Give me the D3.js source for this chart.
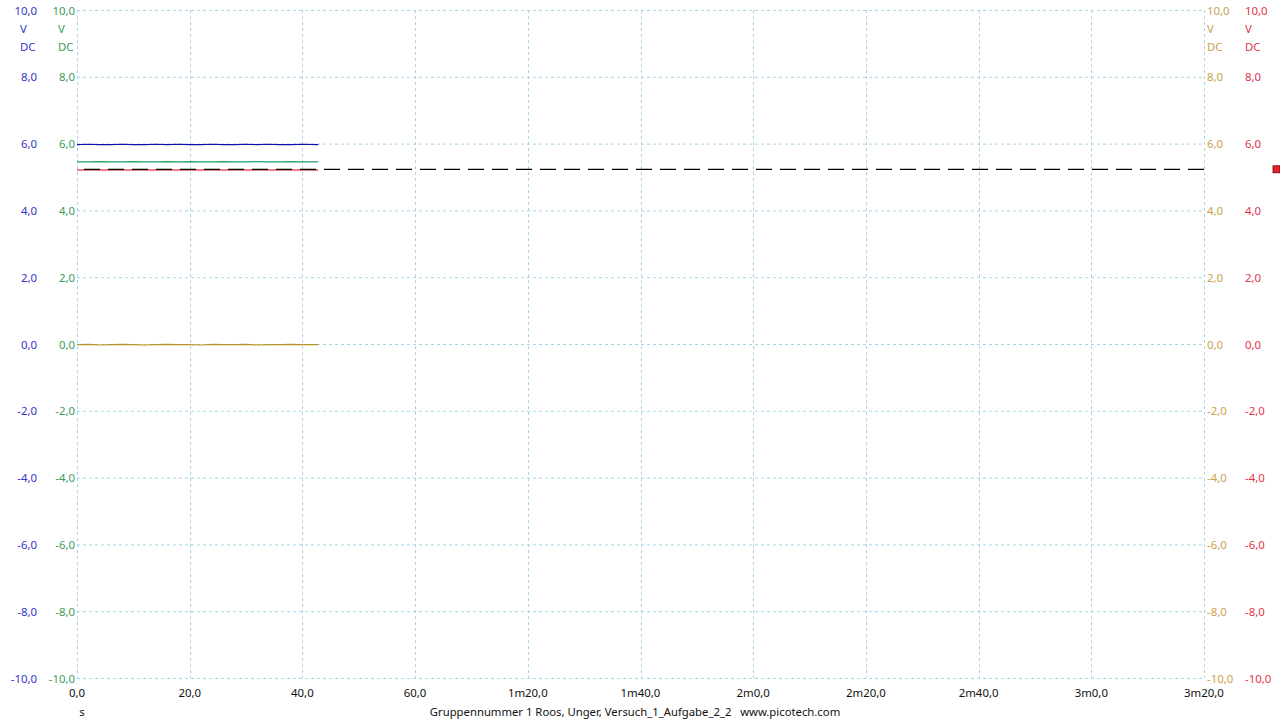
<!DOCTYPE html>
<html><head><meta charset="utf-8">
<script src="https://cdn.jsdelivr.net/npm/d3@7"></script>
<style>
html,body{margin:0;padding:0;background:#fff;}
svg{display:block;font-family:"Noto Sans","Open Sans",sans-serif;font-size:11.4px;}
</style></head>
<body>
<svg id="c" width="1280" height="720"></svg>
<script>
// ---- data ----
const yTicks = [10, 8, 6, 4, 2, 0, -2, -4, -6, -8, -10];
const xTicks = [0, 20, 40, 60, 80, 100, 120, 140, 160, 180, 200];
const xTickLabels = ["0,0", "20,0", "40,0", "60,0", "1m20,0", "1m40,0", "2m0,0", "2m20,0", "2m40,0", "3m0,0", "3m20,0"];
const timeS = [0, 2, 4, 6, 8, 10, 12, 14, 16, 18, 20, 22, 24, 26, 28, 30, 32, 34, 36, 38, 40, 42.8];
const chanA = [5.97, 5.98, 5.97, 5.97, 5.98, 5.97, 5.97, 5.98, 5.97, 5.98, 5.97, 5.97, 5.98, 5.97, 5.97, 5.98, 5.97, 5.98, 5.97, 5.97, 5.98, 5.97]; // blue
const chanC = [5.45, 5.45, 5.46, 5.45, 5.45, 5.46, 5.45, 5.45, 5.46, 5.45, 5.46, 5.45, 5.45, 5.46, 5.45, 5.45, 5.46, 5.45, 5.45, 5.46, 5.45, 5.45]; // green
const chanB = [5.21, 5.21, 5.21, 5.21, 5.21, 5.21, 5.21, 5.21, 5.21, 5.21, 5.21, 5.21, 5.21, 5.21, 5.21, 5.21, 5.21, 5.21, 5.21, 5.21, 5.21, 5.21]; // red
const chanD = [-0.02, -0.01, -0.03, -0.02, -0.01, -0.02, -0.03, -0.02, -0.01, -0.02, -0.02, -0.03, -0.01, -0.02, -0.02, -0.01, -0.03, -0.02, -0.02, -0.01, -0.02, -0.02]; // yellow
const refLevel = 5.23; // black dashed reference line
const axisUnits = ["V", "DC"];
const title = "Gruppennummer 1 Roos, Unger, Versuch_1_Aufgabe_2_2   www.picotech.com";
const timeUnit = "s";

// ---- styles ----
const col = {
  aLab: "#3434c8", cLab: "#3c9c58", dLab: "#c8a24e", bLab: "#e0344c",
  aLine: "#1010a8", cLine: "#24a068", bLine: "#d40010", dLine: "#b89426",
  grid: "#a8d4e4"
};

const svg = d3.select("#c");
const x = d3.scaleLinear().domain([0, 200]).range([77, 1204]);
const y = d3.scaleLinear().domain([-10, 10]).range([678, 10]);

// grid
const g = svg.append("g");
g.selectAll("line.h").data(yTicks).join("line")
  .attr("x1", x(0)).attr("x2", x(200))
  .attr("y1", d => y(d) + 0.5).attr("y2", d => y(d) + 0.5)
  .attr("stroke", col.grid).attr("stroke-dasharray", "3,3");
g.selectAll("line.v").data(xTicks).join("line")
  .attr("y1", y(10)).attr("y2", y(-10))
  .attr("x1", d => Math.round(x(d)) + 0.5).attr("x2", d => Math.round(x(d)) + 0.5)
  .attr("stroke", col.grid).attr("stroke-dasharray", "3,3");

// axis labels
const fmt = v => d3.format(".1f")(v).replace(".", ",").replace("−", "-");
function yAxis(xpos, anchor, color, unitX) {
  const a = svg.append("g").attr("fill", color);
  a.selectAll("text").data(yTicks).join("text")
    .attr("x", xpos).attr("y", d => y(d) + 4.5)
    .attr("text-anchor", anchor).text(fmt);
  a.selectAll("text.u").data(axisUnits).join("text").attr("class", "u")
    .attr("x", unitX).attr("y", (d, i) => y(10) + 22.5 + i * 18)
    .text(d => d);
}
yAxis(37, "end", col.aLab, 20);
yAxis(75, "end", col.cLab, 58);
yAxis(1207, "start", col.dLab, 1207);
yAxis(1245, "start", col.bLab, 1245);

// x axis labels
svg.append("g").selectAll("text").data(xTicks).join("text")
  .attr("x", d => x(d)).attr("y", 697).attr("text-anchor", "middle")
  .attr("fill", "#111").text((d, i) => xTickLabels[i]);
svg.append("text").attr("x", 82).attr("y", 716).attr("text-anchor", "middle")
  .attr("fill", "#111").text(timeUnit);
svg.append("text").attr("x", 635).attr("y", 716).attr("text-anchor", "middle")
  .attr("fill", "#111").style("font-size", "11.3px").style("white-space", "pre").text(title);

// traces
const line = d3.line().x((d, i) => x(timeS[i])).y(d => y(d));
function trace(data, color) {
  svg.append("path").datum(data).attr("d", line)
    .attr("fill", "none").attr("stroke", color).attr("stroke-width", 1.2);
}
trace(chanD, col.dLine);
trace(chanC, col.cLine);
trace(chanA, col.aLine);
trace(chanB, col.bLine);

// reference dashed line (drawn from the right so it ends on a dash at the plot edge)
svg.append("line").attr("x1", x(200)).attr("x2", x(0))
  .attr("y1", y(refLevel)).attr("y2", y(refLevel))
  .attr("stroke", "#000").attr("stroke-width", 1.2).attr("stroke-dasharray", "16,8");

// marker at right
svg.append("rect").attr("x", 1273).attr("y", y(refLevel) - 3.5)
  .attr("width", 7).attr("height", 7)
  .attr("fill", "#e8202c").attr("stroke", "#600").attr("stroke-width", 0.8);
</script>
</body></html>
